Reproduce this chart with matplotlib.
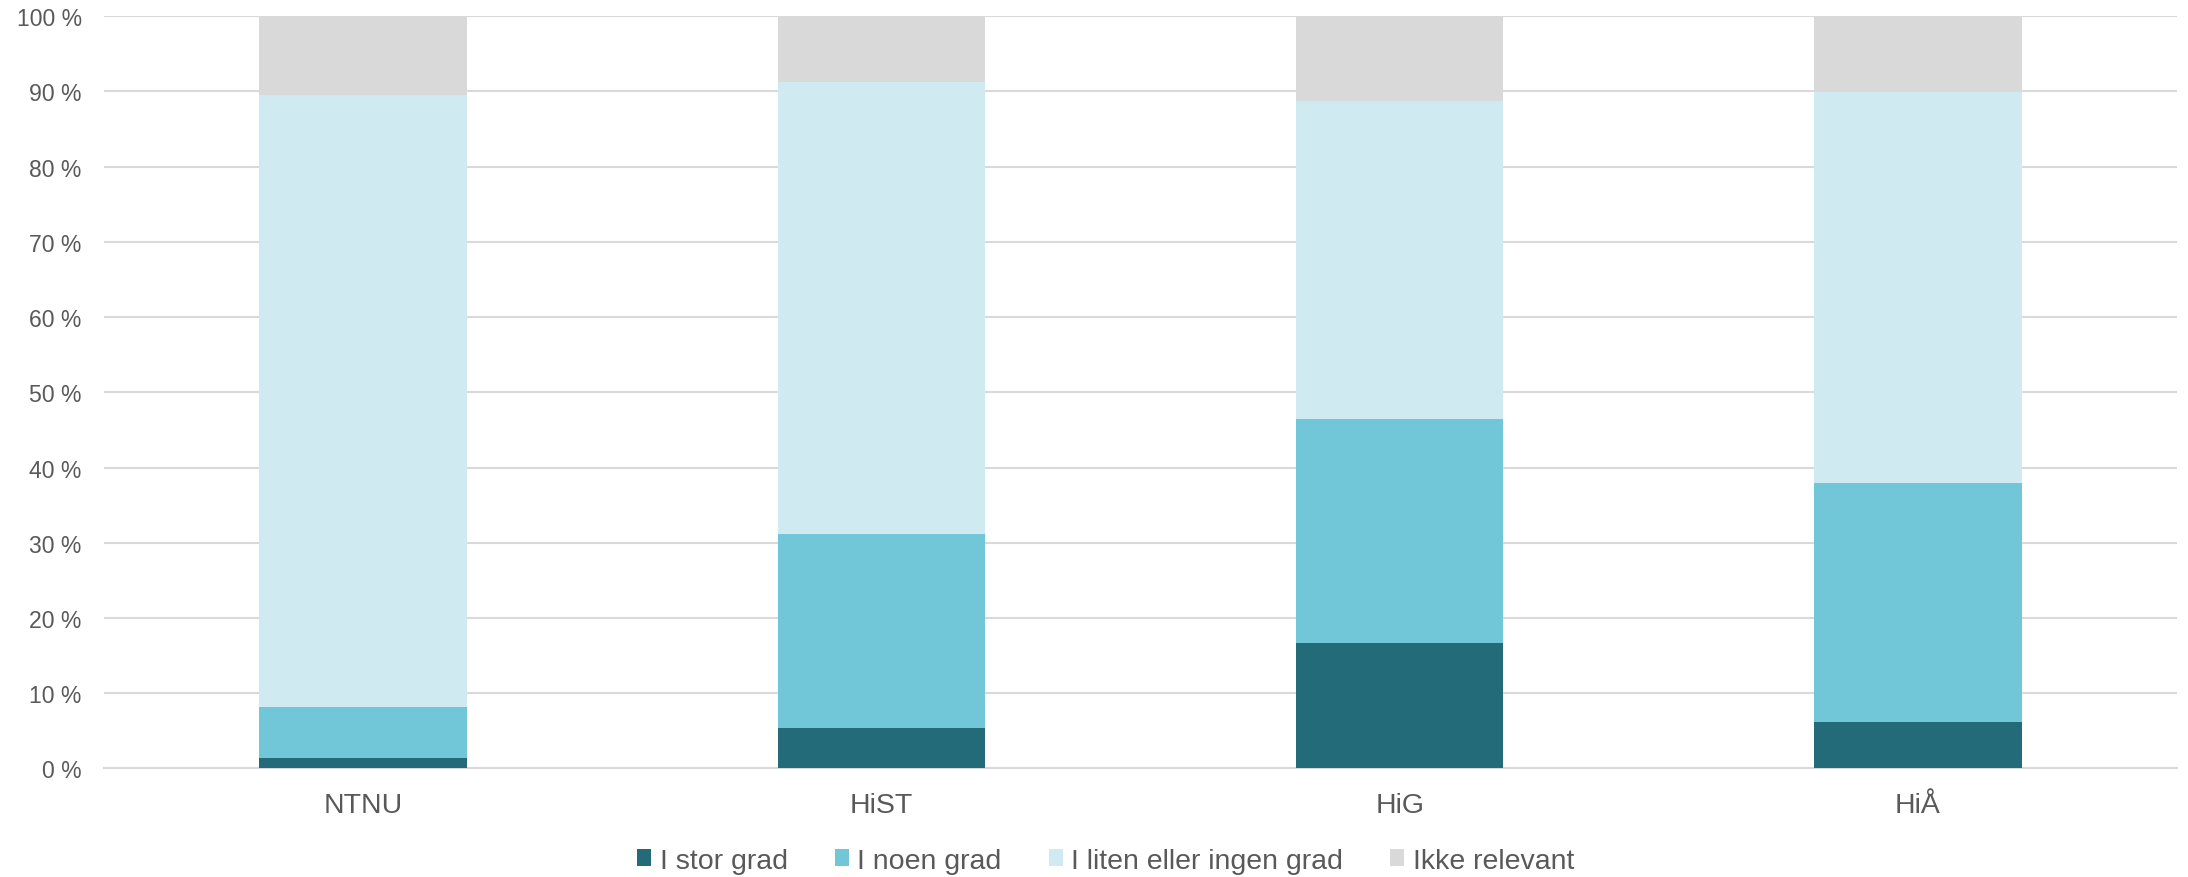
import numpy as np
import matplotlib
matplotlib.use('Agg')
import matplotlib.pyplot as plt
from matplotlib.patches import Patch

plt.rcParams['font.family'] = ['Liberation Sans', 'DejaVu Sans']

# Data (percent)
institutions = ['NTNU', 'HiST', 'HiG', 'HiÅ']
series_names = ['I stor grad', 'I noen grad', 'I liten eller ingen grad', 'Ikke relevant']
stor_grad = [1.4, 5.3, 16.6, 6.2]
noen_grad = [6.8, 25.9, 29.9, 31.7]
liten_ingen = [81.3, 60.0, 42.3, 52.0]
ikke_relevant = [10.5, 8.8, 11.2, 10.1]
y_ticks = list(range(0, 101, 10))

colors = ['#236B78', '#71C6D7', '#CFEBF1', '#D9D9D9']
text_color = '#595959'

fig = plt.figure(figsize=(21.88, 8.78), dpi=100)
ax = fig.add_axes([0.0475, 0.1238, 0.9475, 0.8565])

x = np.arange(len(institutions))
bottom = np.zeros(len(institutions))
for vals, col in zip([stor_grad, noen_grad, liten_ingen, ikke_relevant], colors):
    ax.bar(x, vals, width=0.4, bottom=bottom, color=col, zorder=3, linewidth=0)
    bottom += np.array(vals)

ax.set_xlim(-0.5, len(institutions) - 0.5)
ax.set_ylim(0, 100)
ax.set_yticks(y_ticks)
ax.set_yticklabels([f'{t} %' for t in y_ticks], fontsize=16.6, color=text_color)
ax.set_xticks(x)
ax.set_xticklabels(institutions, fontsize=20.5, color=text_color)
ax.tick_params(axis='y', length=0, pad=16)
ax.tick_params(axis='x', length=0, pad=17)

ax.grid(axis='y', color='#D9D9D9', lw=1.5, zorder=0)
for s in ['top', 'right', 'left']:
    ax.spines[s].set_visible(False)
ax.spines['bottom'].set_color('#D9D9D9')
ax.spines['bottom'].set_linewidth(1.5)

handles = [Patch(facecolor=c, edgecolor='none') for c in colors]
fig.legend(handles, series_names, loc='center', bbox_to_anchor=(0.5053, 0.0186),
           ncol=4, frameon=False, fontsize=20.5, handlelength=0.5, handleheight=0.5,
           handletextpad=0.3, columnspacing=1.65, labelcolor=text_color,
           borderpad=0, borderaxespad=0)

fig.savefig('out.png', dpi=100)
